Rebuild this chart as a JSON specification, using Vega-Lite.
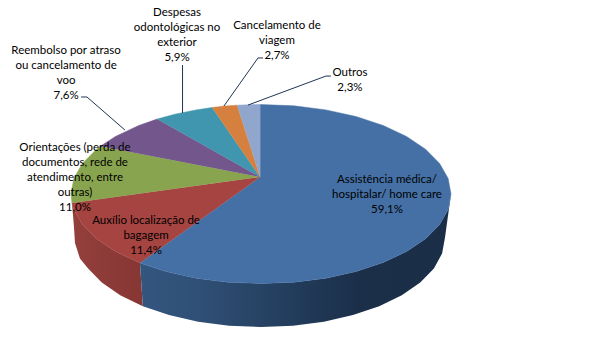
{"$schema":"https://vega.github.io/schema/vega-lite/v6.json","width":589,"height":363,"padding":0,"autosize":{"type":"none"},"background":"white","config":{"view":{"stroke":null}},
"datasets":{
"side":[
{"slice":"Auxílio","o":1,"x":-0.995,"y":-0.1},{"slice":"Auxílio","o":2,"x":-0.985,"y":-0.35},{"slice":"Auxílio","o":3,"x":-0.979,"y":-0.547},{"slice":"Auxílio","o":4,"x":-0.953,"y":-0.72},{"slice":"Auxílio","o":5,"x":-0.91,"y":-0.832},{"slice":"Auxílio","o":6,"x":-0.838,"y":-0.989},{"slice":"Auxílio","o":7,"x":-0.741,"y":-1.131},{"slice":"Auxílio","o":8,"x":-0.622,"y":-1.253},{"slice":"Auxílio","o":9,"x":-0.637,"y":-0.771},{"slice":"Auxílio","o":10,"x":-0.766,"y":-0.643},{"slice":"Auxílio","o":11,"x":-0.866,"y":-0.5},{"slice":"Auxílio","o":12,"x":-0.94,"y":-0.342},{"slice":"Auxílio","o":13,"x":-0.985,"y":-0.174},
{"slice":"Assistência","o":1,"x":-0.637,"y":-0.771},{"slice":"Assistência","o":2,"x":-0.5,"y":-0.866},{"slice":"Assistência","o":3,"x":-0.342,"y":-0.94},{"slice":"Assistência","o":4,"x":-0.174,"y":-0.985},{"slice":"Assistência","o":5,"x":0,"y":-1},{"slice":"Assistência","o":6,"x":0.174,"y":-0.985},{"slice":"Assistência","o":7,"x":0.342,"y":-0.94},{"slice":"Assistência","o":8,"x":0.5,"y":-0.866},{"slice":"Assistência","o":9,"x":0.643,"y":-0.766},{"slice":"Assistência","o":10,"x":0.766,"y":-0.643},{"slice":"Assistência","o":11,"x":0.866,"y":-0.5},{"slice":"Assistência","o":12,"x":0.94,"y":-0.342},{"slice":"Assistência","o":13,"x":0.985,"y":-0.174},{"slice":"Assistência","o":14,"x":1,"y":0},
{"slice":"Assistência","o":15,"x":0.968,"y":-0.492},{"slice":"Assistência","o":16,"x":0.953,"y":-0.665},{"slice":"Assistência","o":17,"x":0.91,"y":-0.832},{"slice":"Assistência","o":18,"x":0.838,"y":-0.989},{"slice":"Assistência","o":19,"x":0.741,"y":-1.131},{"slice":"Assistência","o":20,"x":0.622,"y":-1.253},{"slice":"Assistência","o":21,"x":0.484,"y":-1.353},{"slice":"Assistência","o":22,"x":0.331,"y":-1.426},{"slice":"Assistência","o":23,"x":0.168,"y":-1.471},{"slice":"Assistência","o":24,"x":0,"y":-1.486},{"slice":"Assistência","o":25,"x":-0.168,"y":-1.471},{"slice":"Assistência","o":26,"x":-0.331,"y":-1.426},{"slice":"Assistência","o":27,"x":-0.484,"y":-1.353},{"slice":"Assistência","o":28,"x":-0.622,"y":-1.253}
],
"top":[
{"slice":"Assistência","o":0,"x":-0.005,"y":0.19},{"slice":"Assistência","o":1,"x":-0.637,"y":-0.771},{"slice":"Assistência","o":2,"x":-0.5,"y":-0.866},{"slice":"Assistência","o":3,"x":-0.342,"y":-0.94},{"slice":"Assistência","o":4,"x":-0.174,"y":-0.985},{"slice":"Assistência","o":5,"x":0,"y":-1},{"slice":"Assistência","o":6,"x":0.174,"y":-0.985},{"slice":"Assistência","o":7,"x":0.342,"y":-0.94},{"slice":"Assistência","o":8,"x":0.5,"y":-0.866},{"slice":"Assistência","o":9,"x":0.643,"y":-0.766},{"slice":"Assistência","o":10,"x":0.766,"y":-0.643},{"slice":"Assistência","o":11,"x":0.866,"y":-0.5},{"slice":"Assistência","o":12,"x":0.94,"y":-0.342},{"slice":"Assistência","o":13,"x":0.985,"y":-0.174},{"slice":"Assistência","o":14,"x":1,"y":0},{"slice":"Assistência","o":15,"x":0.985,"y":0.174},{"slice":"Assistência","o":16,"x":0.94,"y":0.342},{"slice":"Assistência","o":17,"x":0.866,"y":0.5},{"slice":"Assistência","o":18,"x":0.766,"y":0.643},{"slice":"Assistência","o":19,"x":0.643,"y":0.766},{"slice":"Assistência","o":20,"x":0.5,"y":0.866},{"slice":"Assistência","o":21,"x":0.342,"y":0.94},{"slice":"Assistência","o":22,"x":0.174,"y":0.985},{"slice":"Assistência","o":23,"x":-0.005,"y":1},
{"slice":"Auxílio","o":0,"x":-0.005,"y":0.19},{"slice":"Auxílio","o":1,"x":-0.995,"y":-0.1},{"slice":"Auxílio","o":2,"x":-0.985,"y":-0.174},{"slice":"Auxílio","o":3,"x":-0.94,"y":-0.342},{"slice":"Auxílio","o":4,"x":-0.866,"y":-0.5},{"slice":"Auxílio","o":5,"x":-0.766,"y":-0.643},{"slice":"Auxílio","o":6,"x":-0.637,"y":-0.771},
{"slice":"Orientações","o":0,"x":-0.005,"y":0.19},{"slice":"Orientações","o":1,"x":-0.845,"y":0.535},{"slice":"Orientações","o":2,"x":-0.866,"y":0.5},{"slice":"Orientações","o":3,"x":-0.94,"y":0.342},{"slice":"Orientações","o":4,"x":-0.985,"y":0.174},{"slice":"Orientações","o":5,"x":-1,"y":0},{"slice":"Orientações","o":6,"x":-0.995,"y":-0.1},
{"slice":"Reembolso","o":0,"x":-0.005,"y":0.19},{"slice":"Reembolso","o":1,"x":-0.547,"y":0.837},{"slice":"Reembolso","o":2,"x":-0.643,"y":0.766},{"slice":"Reembolso","o":3,"x":-0.766,"y":0.643},{"slice":"Reembolso","o":4,"x":-0.845,"y":0.535},
{"slice":"Despesas","o":0,"x":-0.005,"y":0.19},{"slice":"Despesas","o":1,"x":-0.258,"y":0.966},{"slice":"Despesas","o":2,"x":-0.342,"y":0.94},{"slice":"Despesas","o":3,"x":-0.454,"y":0.891},{"slice":"Despesas","o":4,"x":-0.547,"y":0.837},
{"slice":"Cancelamento","o":0,"x":-0.005,"y":0.19},{"slice":"Cancelamento","o":1,"x":-0.126,"y":0.992},{"slice":"Cancelamento","o":2,"x":-0.191,"y":0.982},{"slice":"Cancelamento","o":3,"x":-0.258,"y":0.966},
{"slice":"Outros","o":0,"x":-0.005,"y":0.19},{"slice":"Outros","o":1,"x":-0.005,"y":1},{"slice":"Outros","o":2,"x":-0.063,"y":0.998},{"slice":"Outros","o":3,"x":-0.126,"y":0.992}
],
"leaders":[
{"slice":"Reembolso","o":1,"x":-0.947,"y":1.084},{"slice":"Reembolso","o":2,"x":-0.916,"y":1.084},{"slice":"Reembolso","o":3,"x":-0.716,"y":0.715},
{"slice":"Despesas","o":1,"x":-0.413,"y":1.441},{"slice":"Despesas","o":2,"x":-0.413,"y":0.905},
{"slice":"Cancelamento","o":1,"x":0.011,"y":1.52},{"slice":"Cancelamento","o":2,"x":-0.016,"y":1.52},{"slice":"Cancelamento","o":3,"x":-0.195,"y":0.983},
{"slice":"Outros","o":1,"x":0.368,"y":1.318},{"slice":"Outros","o":2,"x":0.342,"y":1.318},{"slice":"Outros","o":3,"x":-0.068,"y":0.994}
],
"labels":[
{"slice":"Assistência","share":59.1,"label":"Assistência médica/\nhospitalar/ home care\n59,1%","x":0.663,"y":0.123},
{"slice":"Auxílio","share":11.4,"label":"Auxílio localização de\nbagagem\n11,4%","x":-0.605,"y":-0.335},
{"slice":"Orientações","share":11.0,"label":"Orientações (perda de\ndocumentos, rede de\natendimento, entre\noutras)\n11,0%","x":-0.979,"y":0.481},
{"slice":"Reembolso","share":7.6,"label":"Reembolso por atraso\nou cancelamento de\nvoo\n7,6%","x":-1.026,"y":1.564},
{"slice":"Despesas","share":5.9,"label":"Despesas\nodontológicas no\nexterior\n5,9%","x":-0.442,"y":1.989},
{"slice":"Cancelamento","share":2.7,"label":"Cancelamento de\nviagem\n2,7%","x":0.084,"y":1.844},
{"slice":"Outros","share":2.3,"label":"Outros\n2,3%","x":0.468,"y":1.319}
]},
"encoding":{
"x":{"field":"x","type":"quantitative","axis":null,"scale":{"domain":[-1.3737,1.7263],"nice":false,"zero":false}},
"y":{"field":"y","type":"quantitative","axis":null,"scale":{"domain":[-1.888,2.1676],"nice":false,"zero":false}}},
"layer":[
{"data":{"name":"side"},"transform":[{"filter":"datum.slice==='Auxílio'"}],"mark":{"type":"line","strokeWidth":0,"fill":{"gradient":"linear","x1":0,"y1":0,"x2":1,"y2":0,"stops":[{"offset":0,"color":"#94403d"},{"offset":1,"color":"#863633"}]}},"encoding":{"order":{"field":"o","type":"quantitative"}}},
{"data":{"name":"side"},"transform":[{"filter":"datum.slice==='Assistência'"}],"mark":{"type":"line","strokeWidth":0,"fill":{"gradient":"linear","x1":0,"y1":0,"x2":1,"y2":0,"stops":[{"offset":0,"color":"#33567f"},{"offset":0.2,"color":"#2f4f75"},{"offset":0.45,"color":"#243f5f"},{"offset":0.7,"color":"#1b2f49"},{"offset":1,"color":"#1b2e47"}]}},"encoding":{"order":{"field":"o","type":"quantitative"}}},
{"data":{"name":"top"},"mark":{"type":"line","strokeWidth":0.5},"encoding":{
"order":{"field":"o","type":"quantitative"},
"fill":{"field":"slice","type":"nominal","legend":null,"scale":{"domain":["Assistência","Auxílio","Orientações","Reembolso","Despesas","Cancelamento","Outros"],"range":["#4570a5","#a64441","#89a44e","#72568c","#4096ae","#d5803f","#90a6cd"]}},
"stroke":{"field":"slice","type":"nominal","legend":null,"scale":{"domain":["Assistência","Auxílio","Orientações","Reembolso","Despesas","Cancelamento","Outros"],"range":["#4570a5","#a64441","#89a44e","#72568c","#4096ae","#d5803f","#90a6cd"]}}}},
{"data":{"name":"leaders"},"mark":{"type":"line","stroke":"#1f3552","strokeWidth":1},"encoding":{"detail":{"field":"slice"},"order":{"field":"o","type":"quantitative"}}},
{"data":{"name":"labels"},"mark":{"type":"text","font":"Lato","fontSize":11.5,"lineHeight":15,"lineBreak":"\n","align":"center","baseline":"alphabetic","color":"black"},"encoding":{"text":{"field":"label","type":"nominal"}}}
]}
